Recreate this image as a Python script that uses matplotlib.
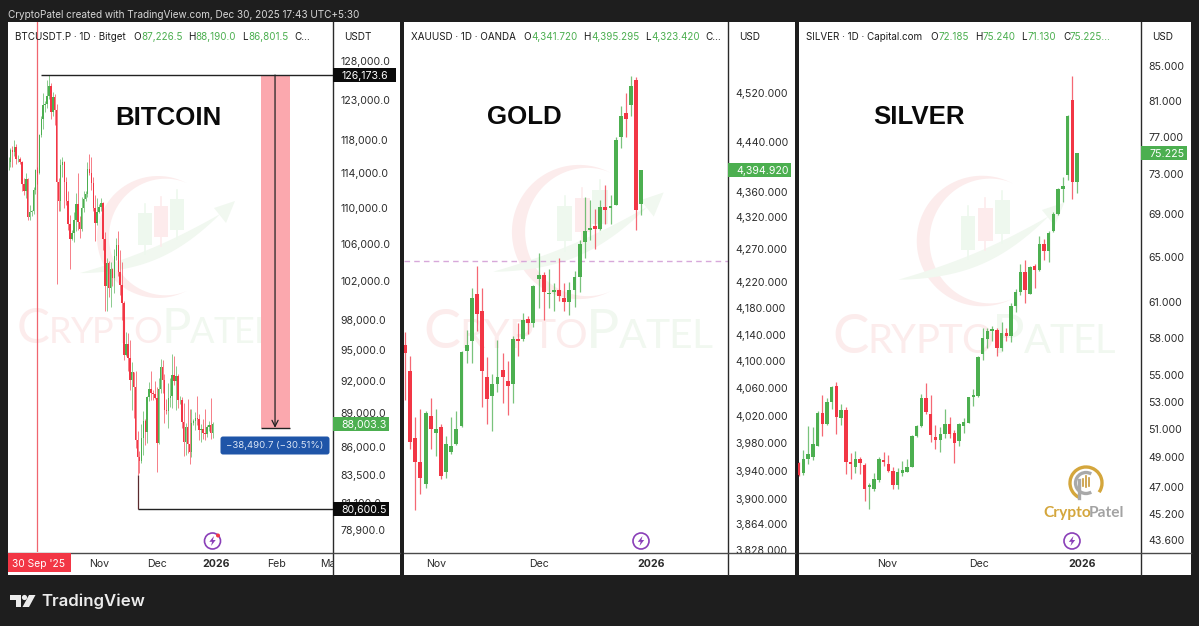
#!/usr/bin/env python3
"""BTC / gold / silver daily candles, three TradingView panels side by side."""

import numpy as np
import matplotlib
matplotlib.use("Agg")
import matplotlib.pyplot as plt
from matplotlib.patches import Circle, Polygon, Rectangle, FancyBboxPatch, Arc
from matplotlib.ticker import NullLocator

plt.rcParams["font.family"] = ["Inter", "DejaVu Sans"]

W, H = 1199, 626

# ---- data ----
btc_open = [115300, 115400, 116800, 116500, 117100, 115700, 115700, 115300, 112700, 112000, 113300, 109000,
            109600, 109700, 112100, 114400, 114050, 118600, 120600, 122300, 122400, 123500, 124700, 121400,
            123300, 121700, 113000, 110800, 115000, 115300, 113000, 110800, 108200, 106500, 107200, 108600,
            110500, 108400, 107600, 110000, 111000, 111600, 114500, 114100, 112900, 110000, 108300, 109600,
            110100, 110600, 106500, 101500, 103900, 101300, 103300, 102300, 104700, 105900, 103000, 101600,
            99700, 94500, 95600, 94200, 92100, 92900, 91500, 86600, 85100, 84700, 86800, 88300, 87300,
            90500, 91300, 90900, 90800, 90400, 86300, 91300, 93400, 92100, 89300, 89200, 90400, 90600,
            92600, 92000, 92500, 90200, 90200, 88200, 86400, 87800, 86200, 85500, 88100, 88300, 88600,
            88500, 87500, 87600, 87200, 87100, 87800, 87900, 87226.5]
btc_high = [116000, 117000, 117300, 118000, 117500, 116200, 116000, 115500, 113400, 114000, 113500, 110300,
            109800, 112400, 114500, 114800, 118700, 121000, 123900, 122900, 125500, 126173.6, 125100, 124000,
            123700, 122500, 113400, 115700, 115900, 115500, 113600, 111900, 109200, 107500, 109500, 111700,
            114000, 109100, 111300, 112000, 111900, 115400, 116300, 116000, 113600, 111500, 111100, 110500,
            111100, 110700, 107300, 104500, 104200, 104000, 103400, 105400, 106600, 107400, 105300, 104000,
            99900, 96800, 96700, 96000, 93800, 92900, 93000, 87400, 85600, 88000, 89200, 88500, 90600,
            91900, 93000, 91200, 92000, 91500, 92300, 94100, 94000, 92700, 90300, 91800, 92300, 94600,
            94400, 93500, 92700, 90600, 90500, 90000, 88100, 90300, 89400, 89400, 88500, 89100, 90600,
            88900, 88000, 88500, 89400, 87900, 88300, 90400, 88190]
btc_low = [114400, 114700, 114700, 116100, 115100, 115400, 115100, 111900, 111500, 111100, 108600, 108600,
           109100, 109300, 111600, 112700, 113900, 118400, 119300, 121500, 122000, 123100, 120600, 121000,
           119800, 101700, 109700, 109700, 113600, 110000, 110300, 107500, 103300, 106400, 106200, 107400,
           107500, 106700, 107400, 109600, 110800, 111300, 113800, 112100, 109700, 106300, 108100, 109400,
           109700, 105300, 98900, 98900, 100300, 99300, 101500, 100800, 104300, 102500, 100600, 98000,
           94000, 94400, 93000, 91200, 89300, 88600, 85900, 83500, 83700, 84600, 85300, 86100, 86300,
           90100, 90200, 90200, 90300, 83800, 86200, 90900, 90900, 88100, 88900, 87700, 89600, 89500,
           91600, 89300, 89500, 89900, 87700, 85200, 85300, 85400, 84500, 85100, 87900, 87500, 87900,
           86600, 86400, 86700, 86600, 86900, 87400, 86700, 86801.5]
btc_close = [115400, 116800, 116500, 117100, 115700, 115700, 115300, 112700, 112000, 113300, 109000, 109600,
             109700, 112100, 114400, 114050, 118600, 120600, 122300, 122400, 123500, 124700, 121400, 123300,
             121700, 113000, 110800, 115000, 115300, 113000, 110800, 108200, 106500, 107200, 108600, 110500,
             108400, 107600, 110000, 111000, 111600, 114500, 114100, 112900, 110000, 108300, 109600, 110100,
             110600, 106500, 101500, 103900, 101300, 103300, 102300, 104700, 105900, 103000, 101600, 99700,
             94500, 95600, 94200, 92100, 92900, 91500, 86600, 85100, 84700, 86800, 88300, 87300, 90500,
             91300, 90900, 90800, 90400, 86300, 91300, 93400, 92100, 89300, 89200, 90400, 90600, 92600,
             92000, 92500, 90200, 90200, 88200, 86400, 87800, 86200, 85500, 88100, 88300, 88600, 88500,
             87500, 87600, 87200, 87100, 87800, 87900, 87200, 88003.3]

gold_open = [4125, 4085, 3988, 3953, 3921, 4020, 3994, 4004, 3938, 3967, 3979, 4005, 4116, 4130, 4201, 4176,
             4077, 4048, 4066, 4087, 4071, 4066, 4134, 4133, 4164, 4158, 4225, 4231, 4201, 4205, 4208, 4196,
             4190, 4208, 4227, 4282, 4301, 4306, 4302, 4337, 4335, 4340, 4448, 4487, 4501, 4541, 4341.72]
gold_high = [4144, 4108, 4018, 4029, 4026, 4045, 4029, 4007, 3990, 4018, 4027, 4116, 4147, 4211, 4244, 4210,
             4106, 4081, 4132, 4112, 4100, 4138, 4158, 4172, 4168, 4216, 4264, 4235, 4240, 4219, 4257, 4218,
             4220, 4236, 4285, 4352, 4348, 4334, 4347, 4372, 4355, 4448, 4498, 4520, 4548, 4546, 4395.295]
gold_low = [4043, 3971, 3885, 3907, 3915, 3971, 3961, 3928, 3930, 3964, 3977, 4004, 4097, 4098, 4145, 4032,
            4007, 3997, 4055, 4038, 4021, 4039, 4108, 4130, 4141, 4152, 4180, 4162, 4180, 4175, 4191, 4175,
            4170, 4181, 4204, 4257, 4285, 4270, 4301, 4309, 4309, 4339, 4431, 4448, 4483, 4301, 4323.42]
gold_close = [4113, 3981, 3952, 3930, 4023, 4001, 4001, 3932, 3979, 3976, 4000, 4114, 4125, 4195, 4171, 4085,
              4044, 4066, 4076, 4076, 4063, 4133, 4130, 4162, 4158, 4214, 4230, 4204, 4203, 4207, 4198, 4190,
              4207, 4227, 4278, 4299, 4304, 4302, 4336, 4331, 4337, 4443, 4483, 4478, 4531, 4331, 4394.92]

silver_open = [48.59, 47.91, 48.86, 49.0, 49.8, 52.18, 51.36, 53.0, 54.18, 51.8, 52.35, 48.64, 48.3, 48.88,
               48.43, 46.98, 46.83, 47.45, 48.8, 48.5, 48.08, 47.1, 47.95, 48.0, 48.35, 50.47, 51.2, 53.3,
               52.1, 50.38, 50.2, 50.63, 51.38, 50.73, 50.1, 51.2, 51.45, 53.33, 53.4, 56.7, 57.9, 58.52,
               58.6, 57.15, 58.38, 58.15, 60.6, 61.86, 63.6, 61.7, 64.15, 63.8, 66.2, 65.5, 67.4, 69.0,
               71.5, 72.97, 81.04, 72.185]
silver_high = [48.7, 49.52, 51.2, 51.1, 52.3, 53.5, 53.25, 54.2, 54.5, 52.8, 52.6, 49.3, 49.45, 49.0,
               48.63, 47.27, 47.9, 48.98, 49.33, 49.15, 48.3, 48.25, 48.77, 48.86, 50.55, 51.3, 53.6, 54.4,
               53.5, 51.3, 51.1, 52.45, 51.85, 50.88, 51.4, 51.78, 53.35, 53.95, 56.5, 58.78, 58.78, 58.97,
               58.78, 59.3, 58.78, 60.86, 62.07, 64.33, 64.67, 64.2, 64.3, 66.9, 66.66, 67.45, 69.22, 71.6,
               72.73, 79.4, 83.9, 75.24]
silver_low = [47.7, 47.8, 48.55, 48.82, 49.75, 50.5, 51.3, 52.45, 50.6, 51.3, 47.85, 47.55, 47.9, 47.85,
              46.07, 45.53, 46.75, 47.3, 48.37, 48.0, 46.87, 46.87, 47.7, 48.0, 48.33, 50.4, 51.15, 52.1,
              50.07, 49.55, 49.37, 50.35, 50.35, 48.63, 49.75, 50.73, 51.4, 52.65, 53.35, 56.2, 57.15, 57.7,
              56.5, 56.95, 57.7, 57.63, 60.17, 61.56, 60.88, 61.68, 62.2, 63.73, 64.72, 64.5, 67.35, 68.9,
              70.2, 72.47, 70.55, 71.13]
silver_close = [47.8, 48.86, 49.2, 49.92, 52.18, 51.33, 53.0, 54.13, 51.85, 52.4, 48.65, 48.5, 48.88, 48.63,
                46.83, 47.05, 47.5, 48.9, 48.68, 48.07, 47.1, 48.0, 48.0, 48.35, 50.5, 51.2, 53.25, 52.23,
                50.55, 50.2, 50.63, 51.33, 50.63, 49.98, 51.36, 51.48, 53.33, 53.38, 56.43, 58.0, 58.5, 58.56,
                57.15, 58.36, 58.17, 60.64, 61.86, 63.6, 62.0, 64.1, 63.8, 66.22, 65.5, 67.2, 69.0, 71.52,
                71.85, 79.32, 72.2, 75.225]

btc_ticks = [128000, 123000, 118000, 114000, 110000, 106000, 102000, 98000, 95000, 92000, 89000, 86000,
             83500, 81100, 78900]
gold_ticks = [4520, 4440, 4360, 4320, 4270, 4220, 4180, 4140, 4100, 4060, 4020, 3980, 3940, 3900, 3864, 3828]
silver_ticks = [85, 81, 77, 73, 69, 65, 61, 58, 55, 53, 51, 49, 47, 45.2, 43.6]

btc_months = ["Nov", "Dec", "2026", "Feb", "Mar"]
btc_month_pos = [47, 77, 108, 139, 167]
gold_months = ["Nov", "Dec", "2026"]
gold_month_pos = [6, 26, 48]
silver_months = ["Nov", "Dec", "2026"]
silver_month_pos = [18.7, 38.3, 60]

btc_high_line = 126173.6
btc_low_line = 80600.5
btc_last = 88003.3
btc_target = 87682.9
gold_last = 4394.92
gold_dashed = 4252
silver_last = 75.225

GREEN = "#4caf50"
RED = "#f23645"
DARK = "#1e1e1e"
TXT = "#2b2b2b"

fig = plt.figure(figsize=(W / 100, H / 100), dpi=100, facecolor=DARK)


def pixel_axes(z):
    a = fig.add_axes([0, 0, 1, 1], zorder=z)
    a.set_xlim(0, W)
    a.set_ylim(H, 0)
    a.axis("off")
    return a


bg = pixel_axes(0)
top = pixel_axes(5)


def panel(left, right, ylim, xlim, ticks, labels, tick_pos, tick_labels):
    ax = fig.add_axes([left / W, 1 - 552 / H, (right - left) / W, (552 - 22) / H], zorder=2)
    ax.patch.set_alpha(0)
    ax.set_yscale("log")
    ax.set_ylim(*ylim)
    ax.set_xlim(*xlim)
    ax.yaxis.tick_right()
    ax.set_yticks(ticks, labels)
    ax.yaxis.set_minor_locator(NullLocator())
    ax.tick_params(axis="y", length=0, pad=5.4, labelsize=7.6, labelcolor=TXT)
    ax.set_xticks(tick_pos, tick_labels)
    ax.tick_params(axis="x", length=0, pad=5, labelsize=7.6, labelcolor=TXT)
    for lab in ax.get_xticklabels():
        if lab.get_text() == "2026":
            lab.set_fontweight("bold")
    for s in ax.spines.values():
        s.set_visible(False)
    return ax


def candles(ax, o, h, l, c, width, wick_lw, min_body):
    o, h, l, c = map(np.array, (o, h, l, c))
    x = np.arange(len(o))
    colors = np.where(c >= o, GREEN, RED)
    ax.vlines(x, l, h, colors=colors, lw=wick_lw, alpha=0.75, zorder=3)
    lo = np.minimum(o, c)
    hi = np.maximum(o, c)
    hi = np.maximum(hi, lo * (1 + min_body))
    ax.bar(x, hi - lo, bottom=lo, width=width, color=colors, linewidth=0, zorder=4)


def watermark(x0, base, s, logo_x, logo_y, logo_s):
    pink, mint = "#fcecec", "#f1f8f0"
    # ring, a crescent opening to the right
    t = np.radians(np.linspace(62, 298, 80))
    th = 12 * np.sin(np.pi * (t - t[0]) / (t[-1] - t[0])) ** 1.3
    r = 61 * logo_s
    outer = np.c_[logo_x + r * np.cos(t), logo_y - r * np.sin(t)]
    inner = np.c_[logo_x + (r - th * logo_s) * np.cos(t), logo_y - (r - th * logo_s) * np.sin(t)]
    bg.add_patch(Polygon(np.r_[outer, inner[::-1]], fc=pink, ec="none"))
    # swoosh with arrow head
    a = np.array([-78, 36.0])
    b = np.array([62, -23.0])
    n = np.array([0.39, 0.92])
    u = np.linspace(0, 1, 50)
    low = a + np.outer(u, b - a) + np.outer(np.sin(np.pi * u) ** 0.9 * 17, n)
    upp = a + np.outer(u, b - a) + np.outer(np.sin(np.pi * u) ** 0.9 * 5, n)
    swoosh = np.r_[low, upp[::-1]] * logo_s + [logo_x, logo_y]
    bg.add_patch(Polygon(swoosh, fc=mint, ec="none"))
    head = np.array([[77, -36], [56, -29], [68, -14]]) * logo_s + [logo_x, logo_y]
    bg.add_patch(Polygon(head, fc=mint, ec="none"))
    # three candles
    for (x1, y1, bw, bh, col) in [(-19.7, -23.7, 13.4, 31.7, "#eef8ee"),
                                  (-4, -31, 14.3, 30.7, "#fdebec"),
                                  (12, -38, 14, 31, "#eef8ee")]:
        bg.add_patch(Rectangle((logo_x + x1 * logo_s, logo_y + y1 * logo_s), bw * logo_s, bh * logo_s,
                               fc=col, ec="none"))
        mid = logo_x + (x1 + bw / 2) * logo_s
        bg.plot([mid, mid], [logo_y + (y1 - 9) * logo_s, logo_y + (y1 + bh + 9) * logo_s], color=col, lw=1.2)
    # letters, small caps
    r_ = fig.canvas.get_renderer()
    cur = x0
    for ch, fs, col in [("C", 38, pink), ("R", 28, pink), ("Y", 28, pink), ("P", 28, pink), ("T", 28, pink),
                        ("O", 28, pink), ("P", 38, mint), ("A", 28, mint), ("T", 28, mint), ("E", 28, mint),
                        ("L", 28, mint)]:
        txt = bg.text(cur, base, ch, fontsize=fs * s, color=col, family="Lato", va="baseline", ha="left")
        cur += txt.get_window_extent(r_).width - 1.0 * s


def bolt(cx, cy, dot=False):
    top.add_patch(Circle((cx, cy), 8, fc="white", ec="#8a3fb8", lw=1.2))
    pts = np.array([[1.5, -5], [-3.2, 0.8], [-0.4, 0.8], [-1.5, 5], [3.2, -1], [0.4, -1]]) + [cx, cy]
    top.add_patch(Polygon(pts, fc="#8a3fb8", ec="none"))
    if dot:
        top.add_patch(Circle((cx + 5.5, cy - 5.5), 2, fc=RED, ec="none"))


def price_y(ax, price):
    return H - ax.transData.transform((0, price))[1]


def tag(ax, price, label, x0, x1, fc, tc="white"):
    y = price_y(ax, price)
    top.add_patch(Rectangle((x0, y - 7), x1 - x0, 14, fc=fc, ec="none", zorder=3))
    top.text(x0 + 8, y, label, color=tc, fontsize=7.6, va="center_baseline", ha="left", zorder=4)


def header(items, y=37):
    for x, s, col in items:
        top.text(x, y, s, color=col, fontsize=7.1, va="center", ha="left")


# white panels and page text
for x0, x1 in [(8, 400), (404, 795), (799, 1191)]:
    bg.add_patch(Rectangle((x0, 22), x1 - x0, 553, fc="white", ec="none"))

watermark(17, 343, 0.93, 158, 237, 1.0)
watermark(423, 348, 1.05, 579, 232, 1.1)
watermark(832, 353, 1.03, 982, 241, 1.07)

# ---- BTC panel ----
ax1 = panel(8, 333, (77140, 133267), (-0.26, 168.5), btc_ticks,
            [f"{v:,.1f}" for v in btc_ticks], btc_month_pos, btc_months)
ax1.axvline(15, color="#f0656f", lw=0.9, zorder=2)
candles(ax1, btc_open, btc_high, btc_low, btc_close, 0.75, 0.6, 0.0005)
ax1.fill_betweenx([btc_target, btc_high_line], 131.1, 146.2, color="#fba8ae", lw=0, zorder=1)
ax1.hlines(btc_high_line, 16.9, 168.5, color="#222222", lw=1, zorder=5)
ax1.hlines(btc_low_line, 67, 168.5, color="#222222", lw=1, zorder=5)
ax1.vlines(67, btc_low_line, 83500, color="#5a2a2e", lw=0.9, zorder=5)
ax1.hlines(btc_target, 131.1, 146.2, color="#222222", lw=1, zorder=5)
ax1.annotate("", xy=(138.4, btc_target), xytext=(138.4, btc_high_line), zorder=5,
             arrowprops=dict(arrowstyle="->", color="#222222", lw=0.9, mutation_scale=11, shrinkA=0, shrinkB=0))

# ---- gold panel ----
ax2 = panel(404, 728, (3825.5, 4638), (-0.195, 62.87), gold_ticks,
            [f"{v:,.3f}" for v in gold_ticks], gold_month_pos, gold_months)
ax2.axhline(gold_dashed, color="#d7a8da", lw=1, ls=(0, (4, 3)), zorder=2)
candles(ax2, gold_open, gold_high, gold_low, gold_close, 0.76, 0.9, 0.0006)

# ---- silver panel ----
ax3 = panel(798, 1141, (42.87, 90.5), (-0.15, 72.57), silver_ticks,
            [f"{v:,.3f}" for v in silver_ticks], silver_month_pos, silver_months)
candles(ax3, silver_open, silver_high, silver_low, silver_close, 0.72, 0.9, 0.003)

# big asset names
for x, y, s in [(115, 118, "BITCOIN"), (487, 117, "GOLD"), (873, 117, "SILVER")]:
    top.text(x, y, s, fontsize=18.6, fontweight="bold", family="Liberation Sans", color="#0a0a0a",
             va="center", ha="left")

# panel rules, time axis mask
for x0, xr, xa in [(8, 333, 400), (404, 728, 795), (799, 1141, 1191)]:
    top.add_patch(Rectangle((xr, 553), xa - xr, 22, fc="white", ec="none", zorder=1))
    top.plot([xr, xr], [22, 575], color="#2a2a2a", lw=1, zorder=2)
    top.plot([x0, xa], [552.5, 552.5], color="#4a4a4a", lw=1, zorder=2)

# price tags
tag(ax1, btc_high_line, "126,173.6", 333, 396, "#0b0b0b")
tag(ax1, btc_low_line, "80,600.5", 333, 389, "#0b0b0b")
tag(ax1, btc_last, "88,003.3", 333, 389, GREEN)
tag(ax2, gold_last, "4,394.920", 728, 791, GREEN)
tag(ax3, silver_last, "75.225", 1141, 1187, GREEN)

# date tag and measure label
top.add_patch(Rectangle((8, 553), 63, 19, fc=RED, ec="none", zorder=3))
top.text(12, 564, "30 Sep '25", color="white", fontsize=7.4, va="center", ha="left", zorder=4)
top.add_patch(FancyBboxPatch((221, 437), 108, 17, boxstyle="round,pad=0.5,rounding_size=2.5", fc="#1f55a8", ec="none"))
top.text(275, 446, "\u221238,490.7 (\u221230.51%)", color="#dbe6f6", fontsize=6.9, va="center", ha="center")

# legend rows
LEG = "#4caf50"
BLK = "#1c1c1c"
header([(15, "BTCUSDT.P \u00b7 1D \u00b7 Bitget", BLK), (133.5, "O", BLK), (141.5, "87,226.5", LEG),
        (188, "H", BLK), (195.5, "88,190.0", LEG), (242.5, "L", BLK), (248.5, "86,801.5", LEG),
        (294.5, "C\u2026", BLK)])
header([(411, "XAUUSD \u00b7 1D \u00b7 OANDA", BLK), (523, "O", BLK), (531, "4,341.720", LEG),
        (583.5, "H", BLK), (591, "4,395.295", LEG), (645, "L", BLK), (651.5, "4,323.420", LEG),
        (705, "C\u2026", BLK)])
header([(806, "SILVER \u00b7 1D \u00b7 Capital.com", BLK), (930.5, "O", BLK), (938.5, "72.185", LEG),
        (975, "H", BLK), (982.5, "75.240", LEG), (1021, "L", BLK), (1027.5, "71.130", LEG),
        (1063, "C", BLK), (1070, "75.225\u2026", LEG)])
for x, s in [(344, "USDT"), (739, "USD"), (1152, "USD")]:
    top.text(x, 37, s, color=BLK, fontsize=7.2, va="center", ha="left")

bolt(212.5, 541, dot=True)
bolt(641, 541)
bolt(1072, 541)

# gold coin logo, silver panel
top.add_patch(Arc((1086, 483), 32, 32, theta1=115, theta2=395, color="#d4a63c", lw=2.4))
top.add_patch(Arc((1086, 483), 21, 21, theta1=60, theta2=300, color="#a9a9a9", lw=2.4))
top.plot([1079, 1079], [480, 498], color="#a9a9a9", lw=2.4)
for dx, dh in [(-3, 5), (0, 8), (3, 6)]:
    top.plot([1086 + dx, 1086 + dx], [484 - dh, 484 + dh * 0.4], color="#c7983a", lw=1.2)
top.text(1043, 513, "Crypto", color="#d4a63c", fontsize=11.2, fontweight="bold", va="center", ha="left", family="Lato")
top.text(1089, 513, "Patel", color="#a3a3a3", fontsize=11.2, fontweight="bold", va="center", ha="left", family="Lato")

# top line and footer
bg.text(8, 15, "CryptoPatel created with TradingView.com, Dec 30, 2025 17:43 UTC+5:30", color="#d6d6d6",
        fontsize=7.2, va="center", ha="left")
bg.add_patch(Polygon([[10, 595], [21, 595], [21, 607], [15.5, 607], [15.5, 600], [10, 600]], fc="#ececec", ec="none"))
bg.add_patch(Circle((24.5, 597.5), 2.6, fc="#ececec", ec="none"))
bg.add_patch(Polygon([[29, 595], [35.5, 595], [29, 607], [22.5, 607]], fc="#ececec", ec="none"))
bg.text(41, 601, "TradingView", color="#ececec", fontsize=12.1, fontweight="semibold", va="center", ha="left")

fig.savefig("out.png", dpi=100, facecolor=DARK)
plt.close(fig)
